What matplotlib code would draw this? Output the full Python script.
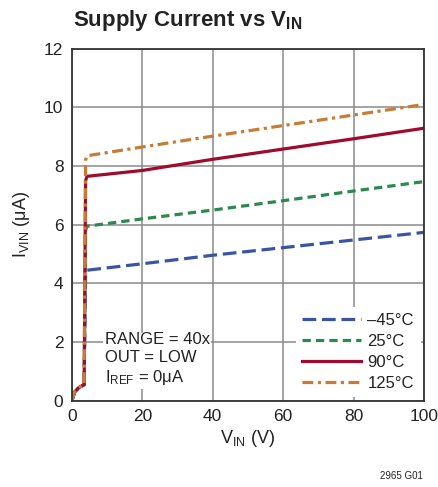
import matplotlib
matplotlib.use('Agg')
import matplotlib.pyplot as plt

plt.rcParams['font.family'] = ['Liberation Sans', 'DejaVu Sans']
plt.rcParams['mathtext.fontset'] = 'custom'
plt.rcParams['mathtext.rm'] = 'Liberation Sans'
plt.rcParams['mathtext.it'] = 'Liberation Sans'
plt.rcParams['mathtext.bf'] = 'Liberation Sans:bold'

# supply voltage (V)
vin = [0, 0.8, 2, 3.5, 3.9, 4.3, 20, 40, 60, 80, 100]
# supply current (uA) per temperature
i_m45 = [0, 0.3, 0.45, 0.55, 4.3, 4.45, 4.67, 4.96, 5.22, 5.48, 5.74]
i_25 = [0, 0.3, 0.45, 0.55, 5.8, 5.95, 6.2, 6.5, 6.82, 7.15, 7.47]
i_90 = [0, 0.3, 0.45, 0.55, 7.5, 7.65, 7.85, 8.23, 8.58, 8.93, 9.29]
i_125 = [0, 0.3, 0.45, 0.55, 8.2, 8.35, 8.65, 9.02, 9.38, 9.74, 10.1]
labels = ['\u201345\u00b0C', '25\u00b0C', '90\u00b0C', '125\u00b0C']

fig = plt.figure(figsize=(4.38, 4.87), dpi=100)
ax = fig.add_axes([0.164, 0.177, 0.804, 0.723])

lw = 2.3
ax.plot(vin, i_m45, color='#3a54a4', lw=lw, dashes=(4.3, 1.8), label=labels[0])
ax.plot(vin, i_25, color='#2b8a4b', lw=lw, dashes=(2.6, 1.6), label=labels[1])
ax.plot(vin, i_90, color='#9e0b2e', lw=lw, label=labels[2])
ax.plot(vin, i_125, color='#c77b35', lw=lw, dashes=(3.4, 1.4, 1.0, 1.4), label=labels[3])

ax.set_xlim(0, 100)
ax.set_ylim(0, 12)
ax.set_xticks(range(0, 101, 20))
ax.set_yticks(range(0, 13, 2))
ax.grid(True, color='#8a8a8a', lw=1.1)
ax.tick_params(direction='in', length=0, labelsize=12.5, pad=6, labelcolor='#222222')
for s in ax.spines.values():
    s.set_linewidth(1.3)
    s.set_color('#333333')

ax.set_xlabel('V$_{\\mathrm{IN}}$ (V)', fontsize=13, labelpad=3, color='#222222')
ax.set_ylabel('I$_{\\mathrm{VIN}}$ (\u03bcA)', fontsize=13, labelpad=9, color='#222222')

fig.text(0.167, 0.957, 'Supply Current vs V$_{\\mathbf{IN}}$', fontsize=16,
         fontweight='bold', ha='left', va='center', color='#222222')

ax.text(9.3, 2.35, 'RANGE = 40x\nOUT = LOW\nI$_{\\mathrm{REF}}$ = 0\u03bcA', fontsize=12,
        ha='left', va='top', linespacing=1.25, color='#222222',
        bbox=dict(facecolor='white', edgecolor='none', pad=1))

leg = ax.legend(loc='lower right', fontsize=12, frameon=True, handlelength=3.5,
                handletextpad=0.4, labelspacing=0.35, borderaxespad=0.2,
                fancybox=False)
leg.get_frame().set_edgecolor('none')
leg.get_frame().set_alpha(1)
for t in leg.get_texts():
    t.set_color('#222222')

fig.text(0.965, 0.012, '2965 G01', fontsize=7, ha='right', va='bottom', color='#222222')

fig.savefig('out.png', dpi=100)
